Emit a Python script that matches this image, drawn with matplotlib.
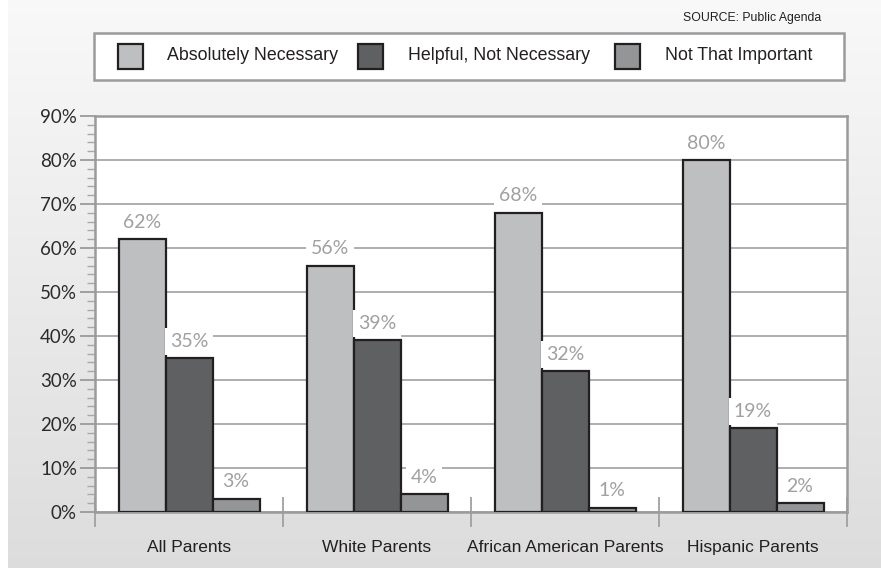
import numpy as np
import matplotlib
matplotlib.use("Agg")
import matplotlib.pyplot as plt
from matplotlib.patches import Rectangle

# ---- data ----
categories = ["All Parents", "White Parents", "African American Parents", "Hispanic Parents"]
series_names = ["Absolutely Necessary", "Helpful, Not Necessary", "Not That Important"]
absolutely_necessary = [62, 56, 68, 80]
helpful_not_necessary = [35, 39, 32, 19]
not_that_important = [3, 4, 1, 2]
y_ticks = [0, 10, 20, 30, 40, 50, 60, 70, 80, 90]
source_text = "SOURCE: Public Agenda"

series_values = [absolutely_necessary, helpful_not_necessary, not_that_important]
colors = ["#bebfc1", "#5f6062", "#939597"]
edge = "#231f20"

W, H = 881, 568
fig = plt.figure(figsize=(W / 100, H / 100), dpi=100)

# background: soft vertical gradient panel
bg = fig.add_axes([0, 0, 1, 1], zorder=-10)
grad = np.linspace(0.975, 0.865, 256).reshape(-1, 1)
bg.imshow(np.dstack([grad] * 3), aspect="auto", extent=[8 / W, 1, 0, 1],
          interpolation="bilinear")
bg.set_xlim(0, 1)
bg.set_ylim(0, 1)
bg.axis("off")

# main axes
left, right, bottom, top = 95 / W, 847 / W, 1 - 512 / H, 1 - 116 / H
ax = fig.add_axes([left, bottom, right - left, top - bottom])
ax.set_facecolor("white")

x = np.arange(len(categories))
bw = 0.25
offsets = [-bw, 0, bw]
for vals, off, col in zip(series_values, offsets, colors):
    bars = ax.bar(x + off, vals, width=bw, color=col, edgecolor=edge,
                  linewidth=1.6, zorder=3)
    for rect, v in zip(bars, vals):
        ax.annotate(f"{v}%", (rect.get_x() + rect.get_width() / 2, v),
                    xytext=(0, 6), textcoords="offset points",
                    ha="center", va="bottom", fontsize=14, color="#a0a0a2",
                    family="Lato", zorder=5,
                    bbox=dict(boxstyle="square,pad=0.25", fc="white", ec="none"))

ax.set_xlim(-0.5, 3.5)
ax.set_ylim(0, 90)

# y axis
ax.set_yticks(y_ticks)
ax.set_yticklabels([f"{v}%" for v in y_ticks], fontsize=13.5, color="#2b2b2b",
                   family="Lato")
ax.set_yticks(np.arange(0, 91, 2), minor=True)
ax.tick_params(axis="y", which="major", direction="out", length=11, width=1.3,
               color="#9a9a9a", pad=2)
ax.tick_params(axis="y", which="minor", direction="out", length=6, width=1.0,
               color="#a8a8a8")
ax.yaxis.grid(True, which="major", color="#a7a8aa", linewidth=1.3, zorder=0)
ax.set_axisbelow(True)

# x axis: labels at group centres, separators between groups
ax.set_xticks(x)
ax.set_xticklabels(categories, fontsize=12.5, color="#231f20",
                   family="Liberation Sans")
ax.tick_params(axis="x", which="major", length=0, pad=20)
ax.set_xticks(np.arange(-0.5, 3.6, 1.0), minor=True)
ax.tick_params(axis="x", which="minor", direction="inout", length=22,
               width=1.3, color="#a0a0a0")

for s in ax.spines.values():
    s.set_color("#9a9b9d")
    s.set_linewidth(1.8)

# legend box drawn in figure pixels
def fx(px):
    return px / W

def fy(py):
    return 1 - py / H

fig.patches.append(Rectangle((fx(94), fy(80)), fx(844) - fx(94), fy(33) - fy(80),
                             transform=fig.transFigure, fc="white",
                             ec="#9a9b9d", lw=1.8, zorder=1))
patch_x = [118, 358, 615]
text_x = [167, 408, 665]
for name, col, px, tx in zip(series_names, colors, patch_x, text_x):
    fig.patches.append(Rectangle((fx(px), fy(69)), fx(25), 25 / H,
                                 transform=fig.transFigure, fc=col, ec=edge,
                                 lw=1.6, zorder=2))
    fig.text(fx(tx), fy(56), name, fontsize=12.8, color="#231f20",
             family="Liberation Sans", ha="left", va="center", zorder=3)

fig.text(fx(821), fy(18), source_text, fontsize=8.8, color="#231f20",
         family="Liberation Sans", ha="right", va="center")

fig.savefig("out.png", dpi=100)
